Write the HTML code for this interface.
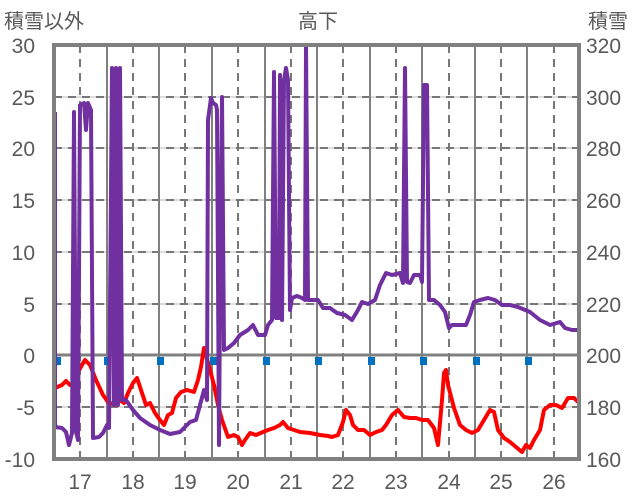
<!DOCTYPE html>
<html><head><meta charset="utf-8"><style>
body{margin:0;background:#fff;}
svg{display:block;font-family:"Liberation Sans","Noto Sans CJK JP",sans-serif;}
</style></head><body>
<svg width="636" height="501" viewBox="0 0 636 501">
<rect width="636" height="501" fill="#fff"/>
<g stroke="#bbb" stroke-width="1">
<line x1="54" y1="97" x2="579" y2="97"/><line x1="54" y1="148" x2="579" y2="148"/><line x1="54" y1="200" x2="579" y2="200"/><line x1="54" y1="252" x2="579" y2="252"/><line x1="54" y1="304" x2="579" y2="304"/><line x1="54" y1="407" x2="579" y2="407"/>
</g>
<g stroke="#777" stroke-width="2" stroke-dasharray="8,6">
<line x1="54" y1="97" x2="579" y2="97"/><line x1="54" y1="148" x2="579" y2="148"/><line x1="54" y1="200" x2="579" y2="200"/><line x1="54" y1="252" x2="579" y2="252"/><line x1="54" y1="304" x2="579" y2="304"/><line x1="54" y1="407" x2="579" y2="407"/>
<line x1="80" y1="45" x2="80" y2="459"/><line x1="133" y1="45" x2="133" y2="459"/><line x1="185" y1="45" x2="185" y2="459"/><line x1="238" y1="45" x2="238" y2="459"/><line x1="291" y1="45" x2="291" y2="459"/><line x1="343" y1="45" x2="343" y2="459"/><line x1="396" y1="45" x2="396" y2="459"/><line x1="449" y1="45" x2="449" y2="459"/><line x1="501" y1="45" x2="501" y2="459"/><line x1="554" y1="45" x2="554" y2="459"/>
</g>
<g stroke="#808080" stroke-width="2">
<line x1="107" y1="45" x2="107" y2="459"/><line x1="159" y1="45" x2="159" y2="459"/><line x1="212" y1="45" x2="212" y2="459"/><line x1="265" y1="45" x2="265" y2="459"/><line x1="317" y1="45" x2="317" y2="459"/><line x1="370" y1="45" x2="370" y2="459"/><line x1="422" y1="45" x2="422" y2="459"/><line x1="475" y1="45" x2="475" y2="459"/><line x1="527" y1="45" x2="527" y2="459"/>
<line x1="54" y1="355" x2="579" y2="355" stroke-width="3"/>
</g>
<g fill="#0070c0">
<rect x="54" y="357" width="7" height="8"/><rect x="104" y="357" width="7" height="8"/><rect x="157" y="357" width="7" height="8"/><rect x="210" y="357" width="7" height="8"/><rect x="263" y="357" width="7" height="8"/><rect x="315" y="357" width="7" height="8"/><rect x="368" y="357" width="7" height="8"/><rect x="420" y="357" width="7" height="8"/><rect x="473" y="357" width="7" height="8"/><rect x="525" y="357" width="7" height="8"/>
</g>
<polyline fill="none" stroke="#ff0000" stroke-width="4" stroke-linejoin="round" points="55,388 62,385 66,381 70,385 74,385 78,372 82,365 85,360 90,365 96,380 103,395 108,402 115,405 120,400 124,403 128,393 133,383 137,378 142,393 146,405 150,403 155,413 160,420 164,425 168,415 172,413 176,398 181,392 187,390 194,392 198,380 201,367 204,348 206,355 210,370 214,385 218,405 222,420 228,437 234,435 238,437 242,445 245,440 250,433 256,435 263,432 268,430 274,428 280,425 283,422 288,428 294,430 300,432 310,433 320,435 328,436 332,437 338,435 343,422 346,410 350,415 353,425 358,430 364,430 370,435 376,432 382,430 386,425 392,415 398,410 404,417 410,418 416,418 422,420 428,420 434,428 438,445 442,400 444,373 446,370 448,385 454,408 460,425 466,430 472,433 478,430 484,420 490,410 494,412 498,430 504,438 510,442 516,447 522,452 526,445 530,448 534,440 540,430 544,410 550,405 556,405 562,408 568,398 574,398 578,402"/>
<polyline fill="none" stroke="#7030a0" stroke-width="4" stroke-linejoin="round" points="55,112 55,427 62,428 66,432 69,445 72,433 74,112 76,432 78,440 80,105 84,103 86,130 88,103 91,110 93,438 99,437 103,433 107,425 109,428 112,68 114,405 116,68 118,405 120,68 122,400 126,400 133,410 140,418 150,425 160,430 170,434 180,432 190,422 196,420 200,405 204,390 207,400 208,120 211,98 213,103 216,105 217,110 219,445 220,300 222,97 224,350 228,348 234,343 240,335 248,330 253,325 258,335 265,335 268,325 272,320 274,72 276,318 279,318 280,75 282,320 284,80 286,68 288,80 290,310 292,298 297,296 302,298 305,300 306,45 308,300 312,300 318,300 323,308 330,308 337,313 345,315 352,320 358,310 362,302 368,304 375,300 380,285 386,273 392,275 400,273 403,283 405,68 407,282 410,283 414,275 420,275 422,282 424,85 427,85 429,300 434,300 440,305 445,312 449,328 452,325 456,325 466,325 470,315 474,302 480,300 488,298 495,300 502,305 510,305 518,307 530,312 540,320 550,325 560,322 565,328 572,330 578,330"/>
<rect x="54" y="45" width="525" height="414" fill="none" stroke="#808080" stroke-width="4"/>
<g fill="#595959" font-size="21" text-anchor="end">
<text x="35" y="53">30</text><text x="35" y="105">25</text><text x="35" y="156">20</text><text x="35" y="208">15</text><text x="35" y="260">10</text><text x="35" y="312">5</text><text x="35" y="363">0</text><text x="35" y="415">-5</text><text x="35" y="467">-10</text>
</g>
<g fill="#595959" font-size="21" text-anchor="start">
<text x="586" y="53">320</text><text x="586" y="105">300</text><text x="586" y="156">280</text><text x="586" y="208">260</text><text x="586" y="260">240</text><text x="586" y="312">220</text><text x="586" y="363">200</text><text x="586" y="415">180</text><text x="586" y="467">160</text>
</g>
<g fill="#595959" font-size="21" text-anchor="middle">
<text x="80" y="489">17</text><text x="133" y="489">18</text><text x="185" y="489">19</text><text x="238" y="489">20</text><text x="291" y="489">21</text><text x="343" y="489">22</text><text x="396" y="489">23</text><text x="449" y="489">24</text><text x="501" y="489">25</text><text x="554" y="489">26</text>
</g>
<g fill="#595959" font-size="20">
<text x="4" y="28">積雪以外</text><text x="318" y="28" text-anchor="middle">高下</text><text x="588" y="28">積雪</text>
</g>
</svg>
</body></html>
